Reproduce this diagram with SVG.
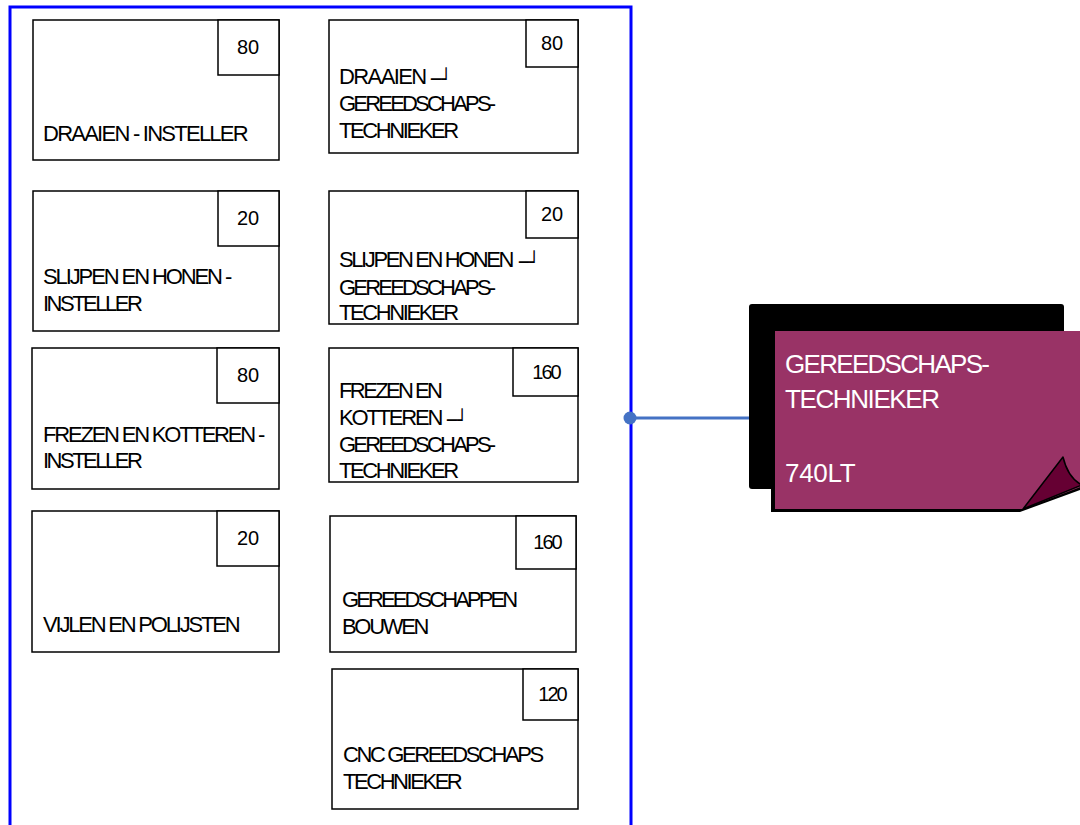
<svg xmlns="http://www.w3.org/2000/svg" width="1080" height="825" viewBox="0 0 1080 825">
<style>
.box{fill:#fff;stroke:#000;stroke-width:1.5}
.lbl{font-family:"Liberation Sans",Arial,sans-serif;font-size:22px;fill:#000}
.num{font-family:"Liberation Sans",Arial,sans-serif;font-size:20px;fill:#000;text-anchor:middle}
.sym{font-family:"DejaVu Sans Mono",monospace;font-size:20px;fill:#000}
.wl{font-family:"Liberation Sans",Arial,sans-serif;font-size:26px;fill:#fff}
</style>
<rect width="1080" height="825" fill="#fff"/>
<g id="container">
<path d="M10,830 V7 H631 V830" fill="none" stroke="#0000FF" stroke-width="3"/>
</g>
<g id="connectors">
<line x1="630" y1="418" x2="750" y2="418" stroke="#4472C4" stroke-width="3"/>
<circle cx="630" cy="418" r="6.5" fill="#4472C4"/>
</g>
<g id="n1">
<rect class="box" x="33" y="20" width="246" height="140"/>
<rect class="box" x="218" y="20" width="61" height="55"/>
<text class="num" x="248" y="54">80</text>
<text class="lbl" x="43" y="141" letter-spacing="-1.75">DRAAIEN - INSTELLER</text>
</g>
<g id="n2">
<rect class="box" x="33" y="191" width="246" height="140"/>
<rect class="box" x="218" y="191" width="61" height="55"/>
<text class="num" x="248" y="225">20</text>
<text class="lbl" x="43" y="284" letter-spacing="-2.1">SLIJPEN EN HONEN -</text>
<text class="lbl" x="43" y="311" letter-spacing="-2.5">INSTELLER</text>
</g>
<g id="n3">
<rect class="box" x="32" y="348" width="247" height="141"/>
<rect class="box" x="217" y="348" width="62" height="55"/>
<text class="num" x="248" y="382">80</text>
<text class="lbl" x="43" y="442" letter-spacing="-2.2">FREZEN EN KOTTEREN -</text>
<text class="lbl" x="43" y="468" letter-spacing="-2.5">INSTELLER</text>
</g>
<g id="n4">
<rect class="box" x="32" y="511" width="247" height="141"/>
<rect class="box" x="217" y="511" width="62" height="55"/>
<text class="num" x="248" y="545">20</text>
<text class="lbl" x="43" y="632" letter-spacing="-2.2">VIJLEN EN POLIJSTEN</text>
</g>
<g id="n5">
<rect class="box" x="329" y="20" width="249" height="133"/>
<rect class="box" x="526" y="20" width="52" height="47"/>
<text class="num" x="552" y="50">80</text>
<text class="lbl" x="339" y="84" letter-spacing="-1.6">DRAAIEN</text>
<text class="sym" x="431" y="86" textLength="20" lengthAdjust="spacingAndGlyphs">─┘</text>
<text class="lbl" x="339" y="111" letter-spacing="-2.8">GEREEDSCHAPS-</text>
<text class="lbl" x="339" y="138" letter-spacing="-2.4">TECHNIEKER</text>
</g>
<g id="n6">
<rect class="box" x="329" y="191" width="249" height="133"/>
<rect class="box" x="526" y="191" width="52" height="47"/>
<text class="num" x="552" y="221">20</text>
<text class="lbl" x="339" y="267" letter-spacing="-2.4">SLIJPEN EN HONEN</text>
<text class="sym" x="519" y="269" textLength="20" lengthAdjust="spacingAndGlyphs">─┘</text>
<text class="lbl" x="339" y="295" letter-spacing="-2.8">GEREEDSCHAPS-</text>
<text class="lbl" x="339" y="320" letter-spacing="-2.4">TECHNIEKER</text>
</g>
<g id="n7">
<rect class="box" x="329" y="348" width="249" height="134"/>
<rect class="box" x="513" y="348" width="65" height="48"/>
<text class="num" x="546" y="379" letter-spacing="-2">160</text>
<text class="lbl" x="339" y="398" letter-spacing="-2.6">FREZEN EN</text>
<text class="lbl" x="339" y="425" letter-spacing="-2.2">KOTTEREN</text>
<text class="sym" x="447" y="427" textLength="20" lengthAdjust="spacingAndGlyphs">─┘</text>
<text class="lbl" x="339" y="452" letter-spacing="-2.8">GEREEDSCHAPS-</text>
<text class="lbl" x="339" y="478" letter-spacing="-2.4">TECHNIEKER</text>
</g>
<g id="n8">
<rect class="box" x="330" y="516" width="246" height="136"/>
<rect class="box" x="516" y="516" width="60" height="53"/>
<text class="num" x="547" y="549" letter-spacing="-2">160</text>
<text class="lbl" x="342" y="607" letter-spacing="-2.9">GEREEDSCHAPPEN</text>
<text class="lbl" x="342" y="634" letter-spacing="-2.3">BOUWEN</text>
</g>
<g id="n9">
<rect class="box" x="332" y="669" width="246" height="140"/>
<rect class="box" x="523" y="669" width="55" height="51"/>
<text class="num" x="552" y="701" letter-spacing="-2">120</text>
<text class="lbl" x="343" y="762" letter-spacing="-2.4">CNC GEREEDSCHAPS</text>
<text class="lbl" x="343" y="789" letter-spacing="-2.45">TECHNIEKER</text>
</g>
<g id="main">
<rect x="749" y="304" width="315" height="185" rx="3" fill="#000"/>
<path d="M771,334 H1083 V489 L1020,512 H771 Z" fill="#000"/>
<path d="M775,331 H1083 V486 L1023,509 H775 Z" fill="#993366"/>
<path d="M1023,509 L1063,457 Q1068,478 1082,485 Z" fill="#660033" stroke="#000" stroke-width="1.5" stroke-linejoin="round"/>
<text class="wl" x="785" y="373" letter-spacing="-1.7">GEREEDSCHAPS-</text>
<text class="wl" x="785" y="408" letter-spacing="-1.4">TECHNIEKER</text>
<text class="wl" x="785" y="482" letter-spacing="-0.3">740LT</text>
</g>
</svg>
